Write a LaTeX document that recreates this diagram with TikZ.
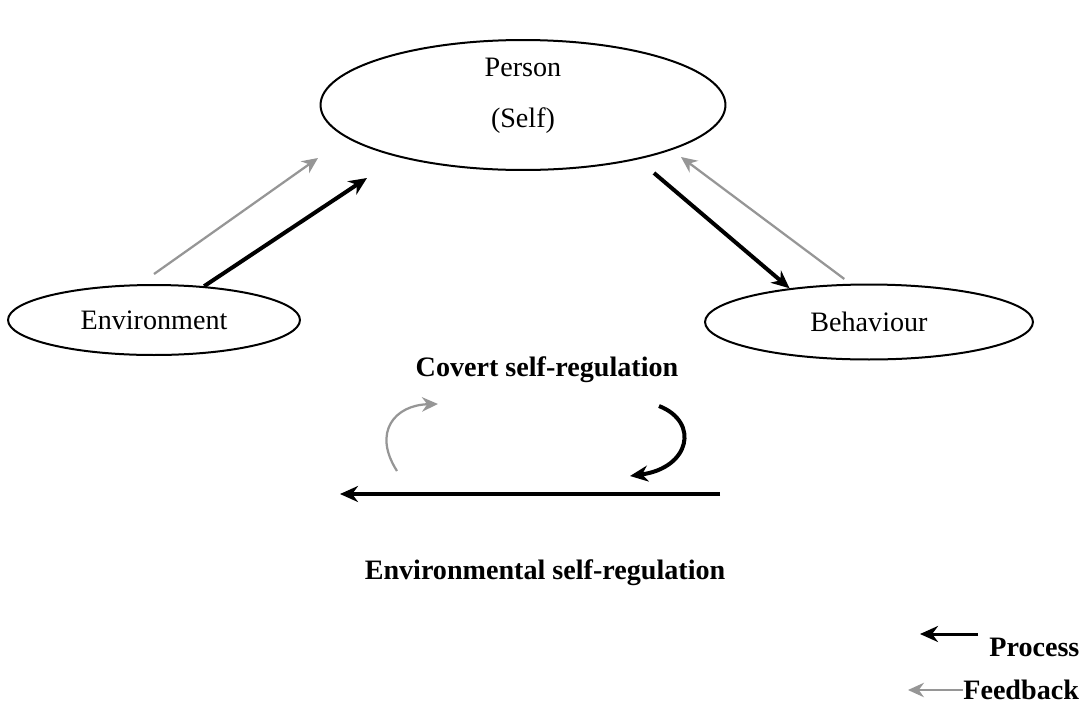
\documentclass[tikz,border=0pt]{standalone}
\usepackage{fontspec}
\setmainfont{Liberation Serif}
\usepackage{tikz}
\usetikzlibrary{shapes.geometric,arrows.meta}
\definecolor{feedgray}{RGB}{150,150,150}

\begin{document}
\begin{tikzpicture}[x=0.02cm, y=-0.02cm,
  every node/.style={font=\fontsize{16}{19}\selectfont},
  oval/.style={ellipse, draw, line width=0.4mm, inner sep=0pt},
  process/.style={-{Stealth[length=3.6mm,width=3.2mm]}, line width=0.8mm},
  feedback/.style={-{Stealth[length=3.2mm,width=2.9mm]}, line width=0.45mm, feedgray}]
\useasboundingbox (0,0) rectangle (1079,704);

% the three corners
\node[oval, minimum width=8.1cm, minimum height=2.6cm] (person) at (523,105) {};
\node[align=center] (self) at (523,96) {Person\\[10pt](Self)};
\node[oval, minimum width=5.84cm, minimum height=1.4cm] (env) at (154,320) {Environment};
\node[oval, minimum width=6.56cm, minimum height=1.5cm] (beh) at (869,322) {Behaviour};

% free ends near the person
\coordinate (envFeed) at (318,158);
\coordinate (envProc) at (367,178);
\coordinate (behProc) at (654,173);
\coordinate (behFeed) at (681,157);

\draw[feedback] ([yshift=2mm]env.north) -- (envFeed);
\draw[process] (env.34) -- (envProc);
\draw[process] (behProc) -- (beh.157);
\draw[feedback] ([yshift=1mm]beh.123) -- (behFeed);

% self-regulation
\node[font=\fontsize{16}{19}\selectfont\bfseries] (covert) at (547,370) {Covert self-regulation};
\node[font=\fontsize{16}{19}\selectfont\bfseries] (envreg) at (545,573) {Environmental self-regulation};

\coordinate (loopA) at (397,471);
\coordinate (loopB) at (438,404);
\coordinate (loopC) at (659,406);
\coordinate (loopD) at (630,476);
\draw[feedback] (loopA) .. controls (372,432) and (395,405) .. (loopB);
\draw[process] (loopC) .. controls (700,422) and (690,468) .. (loopD);

\coordinate (lineR) at (720,494);
\coordinate (lineL) at (340,494);
\draw[process] (lineR) -- (lineL);

% legend
\node[font=\fontsize{16}{19}\selectfont\bfseries, anchor=west, inner sep=0pt] (proc) at (989,647) {Process};
\node[font=\fontsize{16}{19}\selectfont\bfseries, anchor=west, inner sep=0pt] (fb) at (963,690) {Feedback};
\coordinate (procR) at (978,634);
\coordinate (procL) at (920,634);
\coordinate (fbL) at (908,690);
\draw[process, line width=0.6mm] (procR) -- (procL);
\draw[feedback, line width=0.3mm] (fb.west) -- (fbL);
\end{tikzpicture}
\end{document}
